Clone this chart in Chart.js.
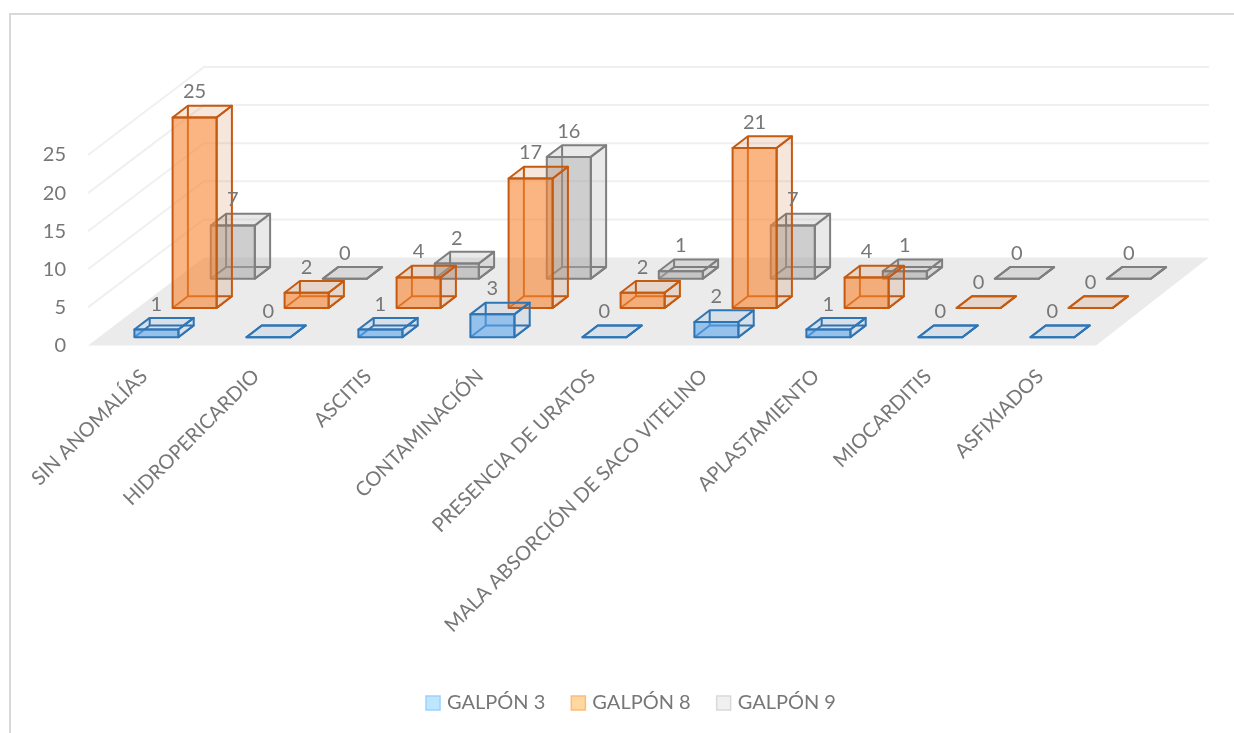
<!DOCTYPE html>
<html>
<head>
<meta charset="utf-8">
<title>Galpones</title>
<script src="https://cdn.jsdelivr.net/npm/chart.js@4"></script>
<style>
  html, body { margin: 0; background: #fff; overflow: hidden; }
  #frame { position: absolute; left: 9px; top: 13px; right: 0; bottom: 0; border-left: 2px solid #d9d9d9; border-top: 2px solid #d9d9d9; pointer-events: none; }
  canvas { display: block; }
</style>
</head>
<body>
<canvas id="chart" width="1234" height="733"></canvas>
<div id="frame"></div>
<script>
const categories = ["SIN ANOMALÍAS", "HIDROPERICARDIO", "ASCITIS", "CONTAMINACIÓN", "PRESENCIA DE URATOS",
  "MALA ABSORCIÓN DE SACO VITELINO", "APLASTAMIENTO", "MIOCARDITIS", "ASFIXIADOS"];
const galpon3 = [1, 0, 1, 3, 0, 2, 1, 0, 0];
const galpon8 = [25, 2, 4, 17, 2, 21, 4, 0, 0];
const galpon9 = [7, 0, 2, 16, 1, 7, 1, 0, 0];
const seriesNames = ["GALPÓN 3", "GALPÓN 8", "GALPÓN 9"];
const yTickStep = 5;
const yMax = 25;

const frontColors = ["rgba(91,165,235,.6)", "rgba(247,131,49,.6)", "rgba(165,165,165,.55)"];
const sideColors = ["rgba(46,117,182,.1)", "rgba(197,90,17,.15)", "rgba(127,127,127,.17)"];
const edgeColors = ["#2e75b6", "#c55a11", "#7f7f7f"];
const legendFills = ["#bde7ff", "#ffd8a0", "#f0f0f0"];
const legendEdges = ["#9dd1ff", "#ffb97f", "#d9d9d9"];
const textColor = "#777777";
const fontFamily = "Lato";

// fake perspective, everything in px
const floorDxLeft = 116, floorDxRight = 113, floorDy = -88;
const seriesStart = [12.4, -8.3], seriesStep = [38.2, -29.2];
const boxDx = 15.3, boxDy = -11.7;

function seriesShift(i) {
  return [seriesStart[0] + seriesStep[0] * i, seriesStart[1] + seriesStep[1] * i];
}

function poly(ctx, pts) {
  ctx.beginPath();
  pts.forEach((p, k) => k ? ctx.lineTo(p[0], p[1]) : ctx.moveTo(p[0], p[1]));
  ctx.closePath();
}

const walls = {
  id: "walls",
  beforeDatasetsDraw(chart) {
    const { ctx, chartArea: a, scales: { y } } = chart;
    ctx.save();
    ctx.fillStyle = "#ebebeb";
    poly(ctx, [[a.left, a.bottom], [a.right, a.bottom], [a.right + floorDxRight, a.bottom + floorDy], [a.left + floorDxLeft, a.bottom + floorDy]]);
    ctx.fill();
    ctx.strokeStyle = "#f0f0f0";
    ctx.lineWidth = 2;
    y.ticks.forEach(t => {
      if (t.value === 0) return;
      const py = y.getPixelForValue(t.value);
      ctx.beginPath();
      ctx.moveTo(a.left, py);
      ctx.lineTo(a.left + floorDxLeft, py + floorDy);
      ctx.lineTo(a.right + floorDxRight, py + floorDy);
      ctx.stroke();
    });
    ctx.restore();
  }
};

const boxes = {
  id: "boxes",
  beforeDatasetDraw(chart, args) {
    const { ctx } = chart;
    const i = args.index;
    const [sx, sy] = seriesShift(i);
    ctx.save();
    ctx.translate(sx, sy);
    ctx.lineWidth = 2;
    ctx.lineJoin = "round";
    ctx.strokeStyle = edgeColors[i];
    args.meta.data.forEach(bar => {
      const x0 = bar.x - bar.width / 2, x1 = bar.x + bar.width / 2;
      const t = bar.y, b = bar.base;
      // hidden edges first, they show through the front face
      ctx.beginPath();
      ctx.moveTo(x0, b); ctx.lineTo(x0 + boxDx, b + boxDy);
      ctx.lineTo(x1 + boxDx, b + boxDy); ctx.lineTo(x1, b);
      ctx.moveTo(x0 + boxDx, b + boxDy); ctx.lineTo(x0 + boxDx, t + boxDy);
      ctx.stroke();
      ctx.fillStyle = sideColors[i];
      poly(ctx, [[x1, t], [x1 + boxDx, t + boxDy], [x1 + boxDx, b + boxDy], [x1, b]]);
      ctx.fill();
      ctx.stroke();
      poly(ctx, [[x0, t], [x0 + boxDx, t + boxDy], [x1 + boxDx, t + boxDy], [x1, t]]);
      ctx.fill();
      ctx.stroke();
    });
  },
  afterDatasetDraw(chart, args) {
    const { ctx } = chart;
    args.meta.data.forEach(bar => {
      ctx.strokeRect(bar.x - bar.width / 2, bar.y, bar.width, bar.base - bar.y);
    });
    ctx.restore();
  },
  afterDatasetsDraw(chart) {
    const { ctx } = chart;
    ctx.save();
    ctx.fillStyle = textColor;
    ctx.font = "20px " + fontFamily;
    ctx.textAlign = "center";
    ctx.textBaseline = "middle";
    chart.data.datasets.forEach((ds, i) => {
      const [sx, sy] = seriesShift(i);
      chart.getDatasetMeta(i).data.forEach((bar, j) => {
        ctx.fillText(ds.data[j], bar.x + sx, bar.y + sy - 25.5);
      });
    });
    ctx.restore();
  }
};

// legend sits centred on the page, not on the plot, and its swatches are wider than the gap allows
const legendPlace = {
  id: "legendPlace",
  afterLayout(chart) {
    const lg = chart.legend;
    lg.left += 83;
    lg.right += 83;
    lg.top = 667;
  },
  afterDraw(chart) {
    const { ctx, legend } = chart;
    ctx.save();
    ctx.lineWidth = 1.5;
    legend.legendHitBoxes.forEach((h, i) => {
      const cy = h.top + h.height / 2;
      ctx.fillStyle = legendFills[i];
      ctx.strokeStyle = legendEdges[i];
      ctx.fillRect(h.left, cy - 7, 14, 14);
      ctx.strokeRect(h.left, cy - 7, 14, 14);
    });
    ctx.restore();
  }
};

new Chart(document.getElementById("chart"), {
  type: "bar",
  data: {
    labels: categories,
    datasets: [galpon3, galpon8, galpon9].map((values, i) => ({
      label: seriesNames[i],
      data: values,
      backgroundColor: frontColors[i],
      borderColor: edgeColors[i],
      borderWidth: 0,
      barPercentage: 0.393,
      categoryPercentage: 1,
      grouped: false,
      clip: false
    }))
  },
  options: {
    responsive: false,
    animation: false,
    layout: { padding: { top: 155, right: 138, left: 0, bottom: 0 } },
    plugins: {
      tooltip: { enabled: false },
      legend: {
        position: "bottom",
        labels: {
          boxWidth: 11,
          boxHeight: 14,
          padding: 26,
          color: textColor,
          font: { family: fontFamily, size: 20 },
          generateLabels: chart => chart.data.datasets.map((ds, i) => ({
            text: ds.label, fillStyle: "transparent", strokeStyle: "transparent", lineWidth: 0, datasetIndex: i, fontColor: textColor
          }))
        }
      }
    },
    scales: {
      x: {
        grid: { display: false, drawTicks: false },
        border: { display: false },
        afterFit: s => { s.height = 331.5; },
        ticks: { autoSkip: false, minRotation: 45, maxRotation: 45, padding: 19, labelOffset: 0, color: textColor, font: { family: fontFamily, size: 20 } }
      },
      y: {
        min: 0,
        max: yMax,
        grid: { display: false, drawTicks: false },
        border: { display: false },
        afterFit: s => { s.width = 88; },
        ticks: { stepSize: yTickStep, padding: 22, color: textColor, font: { family: fontFamily, size: 20 } }
      }
    }
  },
  plugins: [walls, boxes, legendPlace]
});
</script>
</body>
</html>
